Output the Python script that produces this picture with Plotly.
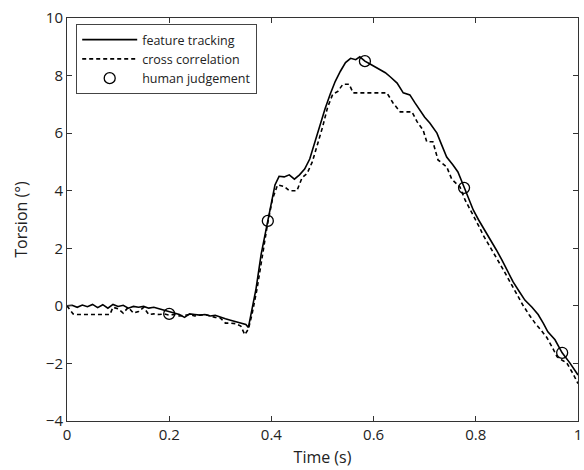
import plotly.graph_objects as go

# feature tracking (solid)
ft_t = [0.000, 0.010, 0.020, 0.030, 0.040, 0.050, 0.060, 0.070, 0.080, 0.090,
        0.100, 0.110, 0.120, 0.130, 0.140, 0.150, 0.160, 0.170, 0.180, 0.190,
        0.200, 0.210, 0.220, 0.230, 0.240, 0.250, 0.260, 0.270, 0.280, 0.290,
        0.300, 0.310, 0.320, 0.330, 0.340, 0.350, 0.355, 0.360, 0.370, 0.380,
        0.390, 0.400, 0.407, 0.415, 0.425, 0.435, 0.445, 0.455, 0.465, 0.475,
        0.485, 0.495, 0.505, 0.515, 0.525, 0.535, 0.545, 0.555, 0.565, 0.573,
        0.583, 0.593, 0.603, 0.613, 0.623, 0.633, 0.646, 0.658, 0.671, 0.681,
        0.691, 0.700, 0.710, 0.724, 0.733, 0.743, 0.755, 0.765, 0.777, 0.786,
        0.795, 0.805, 0.814, 0.828, 0.840, 0.851, 0.862, 0.873, 0.885, 0.896,
        0.910, 0.922, 0.932, 0.941, 0.955, 0.962, 0.969, 0.984, 0.993, 1.000]
ft_v = [0.00, 0.02, -0.05, 0.03, -0.03, 0.05, -0.06, 0.04, -0.08, 0.05,
        -0.02, 0.02, -0.08, -0.02, -0.05, -0.02, -0.08, -0.05, -0.10, -0.15,
        -0.22, -0.25, -0.30, -0.40, -0.28, -0.30, -0.32, -0.30, -0.35, -0.33,
        -0.40, -0.45, -0.50, -0.55, -0.60, -0.65, -0.75, -0.30, 0.60, 1.80,
        2.70, 3.60, 4.20, 4.50, 4.48, 4.55, 4.40, 4.55, 4.75, 5.10,
        5.70, 6.25, 6.85, 7.35, 7.80, 8.15, 8.45, 8.60, 8.55, 8.65,
        8.50, 8.40, 8.30, 8.20, 8.10, 7.95, 7.74, 7.40, 7.33, 7.05,
        6.80, 6.55, 6.35, 6.00, 5.60, 5.17, 4.90, 4.65, 4.13, 3.70,
        3.33, 3.00, 2.74, 2.30, 1.95, 1.60, 1.20, 0.83, 0.50, 0.20,
        -0.05, -0.30, -0.60, -0.90, -1.18, -1.40, -1.63, -1.98, -2.20, -2.40]

# cross correlation (dashed)
cc_t = [0.000, 0.012, 0.020, 0.040, 0.060, 0.084, 0.090, 0.100, 0.110, 0.120,
        0.130, 0.140, 0.150, 0.160, 0.170, 0.180, 0.190, 0.200, 0.210, 0.220,
        0.230, 0.240, 0.250, 0.260, 0.270, 0.280, 0.290, 0.300, 0.310, 0.320,
        0.330, 0.340, 0.348, 0.355, 0.362, 0.372, 0.382, 0.392, 0.402, 0.412,
        0.425, 0.435, 0.450, 0.460, 0.470, 0.480, 0.490, 0.500, 0.510, 0.520,
        0.530, 0.540, 0.552, 0.560, 0.580, 0.600, 0.626, 0.638, 0.652, 0.664,
        0.675, 0.685, 0.697, 0.704, 0.716, 0.726, 0.743, 0.753, 0.769, 0.779,
        0.795, 0.808, 0.814, 0.828, 0.841, 0.854, 0.867, 0.880, 0.892, 0.904,
        0.916, 0.928, 0.939, 0.950, 0.959, 0.970, 0.978, 0.990, 1.000]
cc_v = [0.00, -0.28, -0.30, -0.30, -0.30, -0.30, -0.05, -0.10, -0.25, -0.05,
        -0.25, -0.20, -0.05, -0.30, -0.28, -0.30, -0.28, -0.32, -0.30, -0.35,
        -0.33, -0.30, -0.35, -0.32, -0.30, -0.35, -0.40, -0.42, -0.60, -0.60,
        -0.62, -0.70, -1.00, -0.80, -0.30, 0.60, 1.70, 2.80, 3.70, 4.20,
        4.15, 4.00, 4.00, 4.45, 4.60, 5.00, 5.60, 6.20, 6.90, 7.35,
        7.45, 7.70, 7.70, 7.40, 7.40, 7.40, 7.40, 7.05, 6.74, 6.74,
        6.74, 6.40, 6.10, 5.70, 5.70, 5.07, 4.83, 4.40, 4.13, 3.68,
        3.16, 2.70, 2.47, 2.05, 1.67, 1.25, 0.83, 0.40, 0.03, -0.30,
        -0.60, -0.85, -1.10, -1.45, -1.77, -1.90, -1.98, -2.35, -2.70]

# human judgement (circles)
hj_t = [0.200, 0.393, 0.583, 0.777, 0.969]
hj_v = [-0.28, 2.95, 8.50, 4.10, -1.63]

x_ticks = [0, 0.2, 0.4, 0.6, 0.8, 1]
x_labels = ["0", "0.2", "0.4", "0.6", "0.8", "1"]
y_ticks = [-4, -2, 0, 2, 4, 6, 8, 10]

FONT = "Open Sans"

fig = go.Figure()
fig.add_trace(go.Scatter(x=ft_t, y=ft_v, mode="lines", name="feature tracking",
                         line=dict(color="black", width=1.6)))
fig.add_trace(go.Scatter(x=cc_t, y=cc_v, mode="lines", name="cross correlation",
                         line=dict(color="black", width=1.6, dash="4px,3px")))
fig.add_trace(go.Scatter(x=hj_t, y=hj_v, mode="markers", name="human judgement",
                         marker=dict(symbol="circle-open", size=11, color="black",
                                     line=dict(width=1.3, color="black"))))

axis_common = dict(showline=True, linecolor="#333", linewidth=1, mirror="ticks",
                   ticks="inside", ticklen=5, tickcolor="#333", tickwidth=1,
                   showgrid=False, zeroline=False, automargin=False,
                   ticklabeloverflow="allow",
                   tickfont=dict(family=FONT, size=15, color="#222"))

fig.update_xaxes(range=[0, 1], tickvals=x_ticks, ticktext=x_labels,
                 title=dict(text="Time (s)", font=dict(family=FONT, size=16, color="#222"),
                            standoff=8),
                 **axis_common)
fig.update_yaxes(range=[-4, 10], tickvals=y_ticks,
                 title=dict(text="Torsion (°)", font=dict(family=FONT, size=16, color="#222"),
                            standoff=14),
                 **axis_common)

fig.update_layout(
    width=584, height=470,
    margin=dict(l=67, r=6, t=18, b=49),
    plot_bgcolor="white", paper_bgcolor="white",
    font=dict(family=FONT, color="#222"),
    legend=dict(x=0.018, y=0.985, xanchor="left", yanchor="top",
                bordercolor="#444", borderwidth=1, bgcolor="white",
                font=dict(family=FONT, size=12.5, color="#222"),
                tracegroupgap=0, itemwidth=55),
    showlegend=True,
)

fig.write_html("out.html", config={"displayModeBar": False},
               post_script="document.body.style.margin='0';document.body.style.overflow='hidden';")
